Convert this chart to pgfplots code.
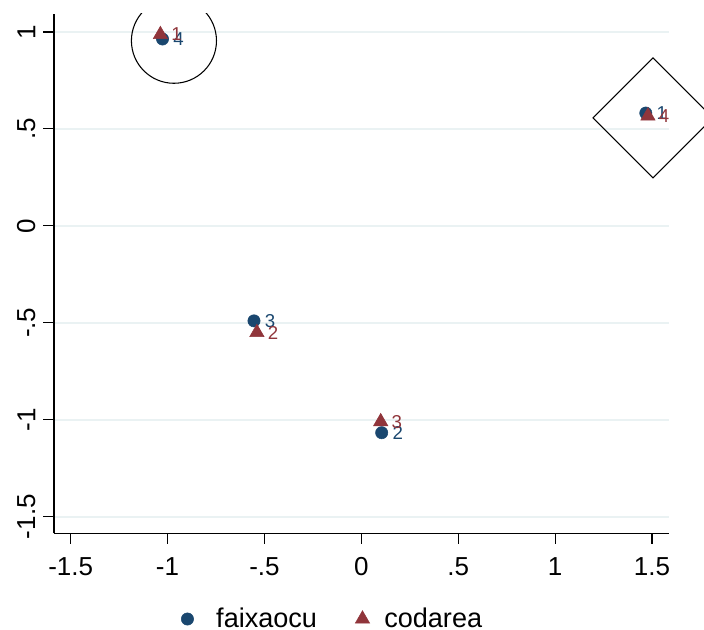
\documentclass[border=0pt]{standalone}
\usepackage{pgfplots}
\pgfplotsset{compat=1.18}
\usepackage{fontspec}
\setmainfont{Liberation Sans}
\definecolor{snavy}{HTML}{1A476F}
\definecolor{smaroon}{HTML}{90353B}
\definecolor{sgrid}{HTML}{EAF2F3}
\begin{document}
\begin{tikzpicture}
\useasboundingbox (-40.5pt,-72.5pt) rectangle (487.5pt,400pt);
\clip (-40.5pt,-72.5pt) rectangle (487.5pt,389.5pt);
\begin{axis}[
  at={(0,0)}, anchor=south west, scale only axis,
  width=461pt, height=389.5pt,
  xmin=-1.586, xmax=1.586, ymin=-1.586, ymax=1.093,
  clip=false,
  axis lines*=left,
  axis line style={black, line width=0.8pt},
  xtick={-1.5,-1,-0.5,0,0.5,1,1.5},
  xticklabels={-1.5,-1,-.5,0,.5,1,1.5},
  ytick={-1.5,-1,-0.5,0,0.5,1},
  yticklabels={-1.5,-1,-.5,0,.5,1},
  tick align=outside, major tick length=8pt,
  tick style={black, line width=0.8pt},
  ymajorgrids, grid style={sgrid, line width=1.5pt},
  xticklabel shift=6.5pt, yticklabel shift=2.5pt,
  xticklabel style={font=\fontsize{19.5}{21}\selectfont},
  yticklabel style={font=\fontsize{19.5}{21}\selectfont, rotate=90, anchor=south},
  legend columns=2,
  legend style={draw=none, fill=none, at={(0.454,-0.165)}, anchor=center,
    font=\fontsize{20.3}{22}\selectfont,
    /tikz/column 1/.style={column sep=15pt},
    /tikz/column 2/.style={column sep=26.7pt},
    /tikz/column 3/.style={column sep=9pt}},
  legend image code/.code={\draw[#1] plot coordinates {(0pt,0pt)};},
]
\addplot[only marks, mark=o, mark size=31.9pt, black, line width=0.8pt, forget plot]
  coordinates {(-0.967,0.955)};
\addplot[only marks, mark=square, mark size=31.8pt, mark options={rotate=45}, black, line width=0.8pt, forget plot]
  coordinates {(1.505,0.557)};
\addplot[only marks, mark=*, mark size=4.6pt, color=snavy,
  nodes near coords, point meta=explicit symbolic,
  every node near coord/.append style={anchor=west, inner sep=0pt, xshift=8pt,
    font=\fontsize{14}{16}\selectfont, text=snavy}]
  table[meta=lab] {
x y lab
1.468 0.582 1
0.105 -1.067 2
-0.554 -0.490 3
-1.026 0.964 4
};
\addlegendentry{faixaocu}
\addplot[only marks, mark=triangle*, mark size=6.2pt, color=smaroon,
  nodes near coords, point meta=explicit symbolic,
  every node near coord/.append style={anchor=west, inner sep=0pt, xshift=8pt,
    font=\fontsize{14}{16}\selectfont, text=smaroon}]
  table[meta=lab] {
x y lab
-1.037 0.987 1
-0.539 -0.550 2
0.100 -1.010 3
1.479 0.567 4
};
\addlegendentry{codarea}
\end{axis}
\end{tikzpicture}
\end{document}
